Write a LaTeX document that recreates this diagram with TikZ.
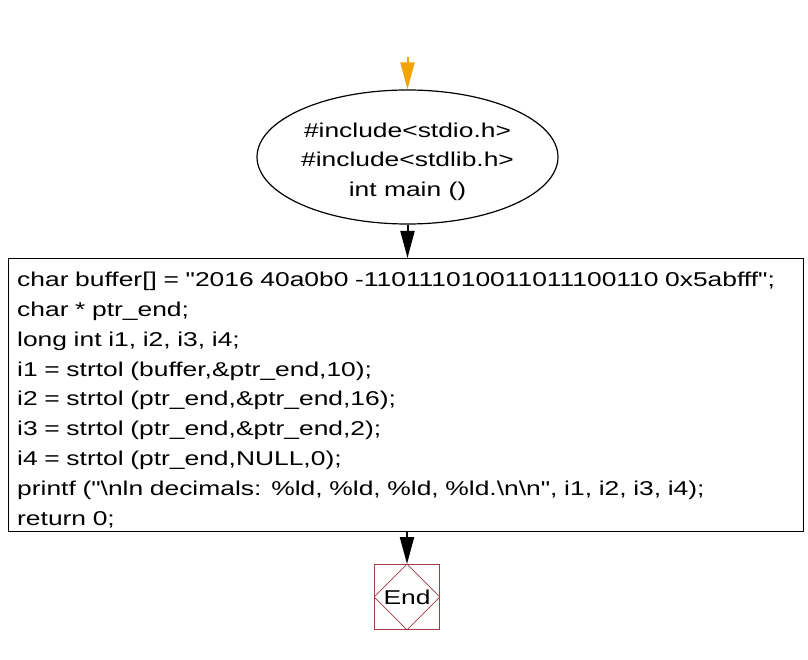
\documentclass[tikz,border=0pt]{standalone}
\usepackage{fontspec}
\setmainfont{Liberation Sans}
\newfontfamily\codefont[FakeStretch=1.32]{Liberation Sans}
\usetikzlibrary{shapes.geometric,arrows.meta}
\definecolor{startorange}{RGB}{244,163,0}
\definecolor{endred}{RGB}{160,60,70}
\tikzset{
  txt/.style={font=\codefont\fontsize{20}{29.8}\selectfont},
  flowarrow/.style={line width=2pt,-{Triangle[length=27pt,width=14pt]}},
  startarrow/.style={flowarrow,draw=startorange,fill=startorange},
  ellbox/.style={draw,line width=1.2pt,ellipse,minimum width=271pt,minimum height=134pt,inner sep=0pt,align=center,font=\codefont\fontsize{20}{29.5}\selectfont},
  codebox/.style={draw,line width=1.3pt,rectangle,anchor=north west,minimum width=795pt,minimum height=273pt,inner sep=0pt},
  codetext/.style={anchor=north west,inner sep=0pt,align=left,text width=780pt,txt,execute at begin node={\setlength{\baselineskip}{29.8pt}}},
  endbox/.style={draw=endred,line width=0.8pt,rectangle,minimum width=65pt,minimum height=65pt,inner sep=0pt,txt}
}
\begin{document}
\begin{tikzpicture}[x=1pt,y=-1pt]
\useasboundingbox (0,0) rectangle (808,660);
\fill[white] (0,0) rectangle (808,660);
\coordinate (start) at (407.5,57);
\node[ellbox] (ell) at (407.5,157) {\rule{0pt}{24pt}\#include<stdio.h>\\\#include<stdlib.h>\\int main ()};
\node[codebox] (code) at (8,258) {};
\node[codetext] (codetxt) at (17,272) {char buffer[] = "2016 40a0b0 -110111010011011100110 0x5abfff";\\
char * ptr\_end;\\
long int i1, i2, i3, i4;\\
i1 = strtol (buffer,\&ptr\_end,10);\\
i2 = strtol (ptr\_end,\&ptr\_end,16);\\
i3 = strtol (ptr\_end,\&ptr\_end,2);\\
i4 = strtol (ptr\_end,NULL,0);\\
printf ("\textbackslash nln decimals: \%ld, \%ld, \%ld, \%ld.\textbackslash n\textbackslash n", i1, i2, i3, i4);\\
return 0;};
\node[endbox] (end) at (407,597) {End};
\draw[endred,line width=0.8pt] (end.north) -- (end.east) -- (end.south) -- (end.west) -- cycle;
\draw[startarrow] (start) -- (ell.north);
\draw[flowarrow] (ell.south) -- (ell.south |- code.north);
\draw[flowarrow] (end.north |- code.south) -- (end.north);
\end{tikzpicture}
\end{document}
